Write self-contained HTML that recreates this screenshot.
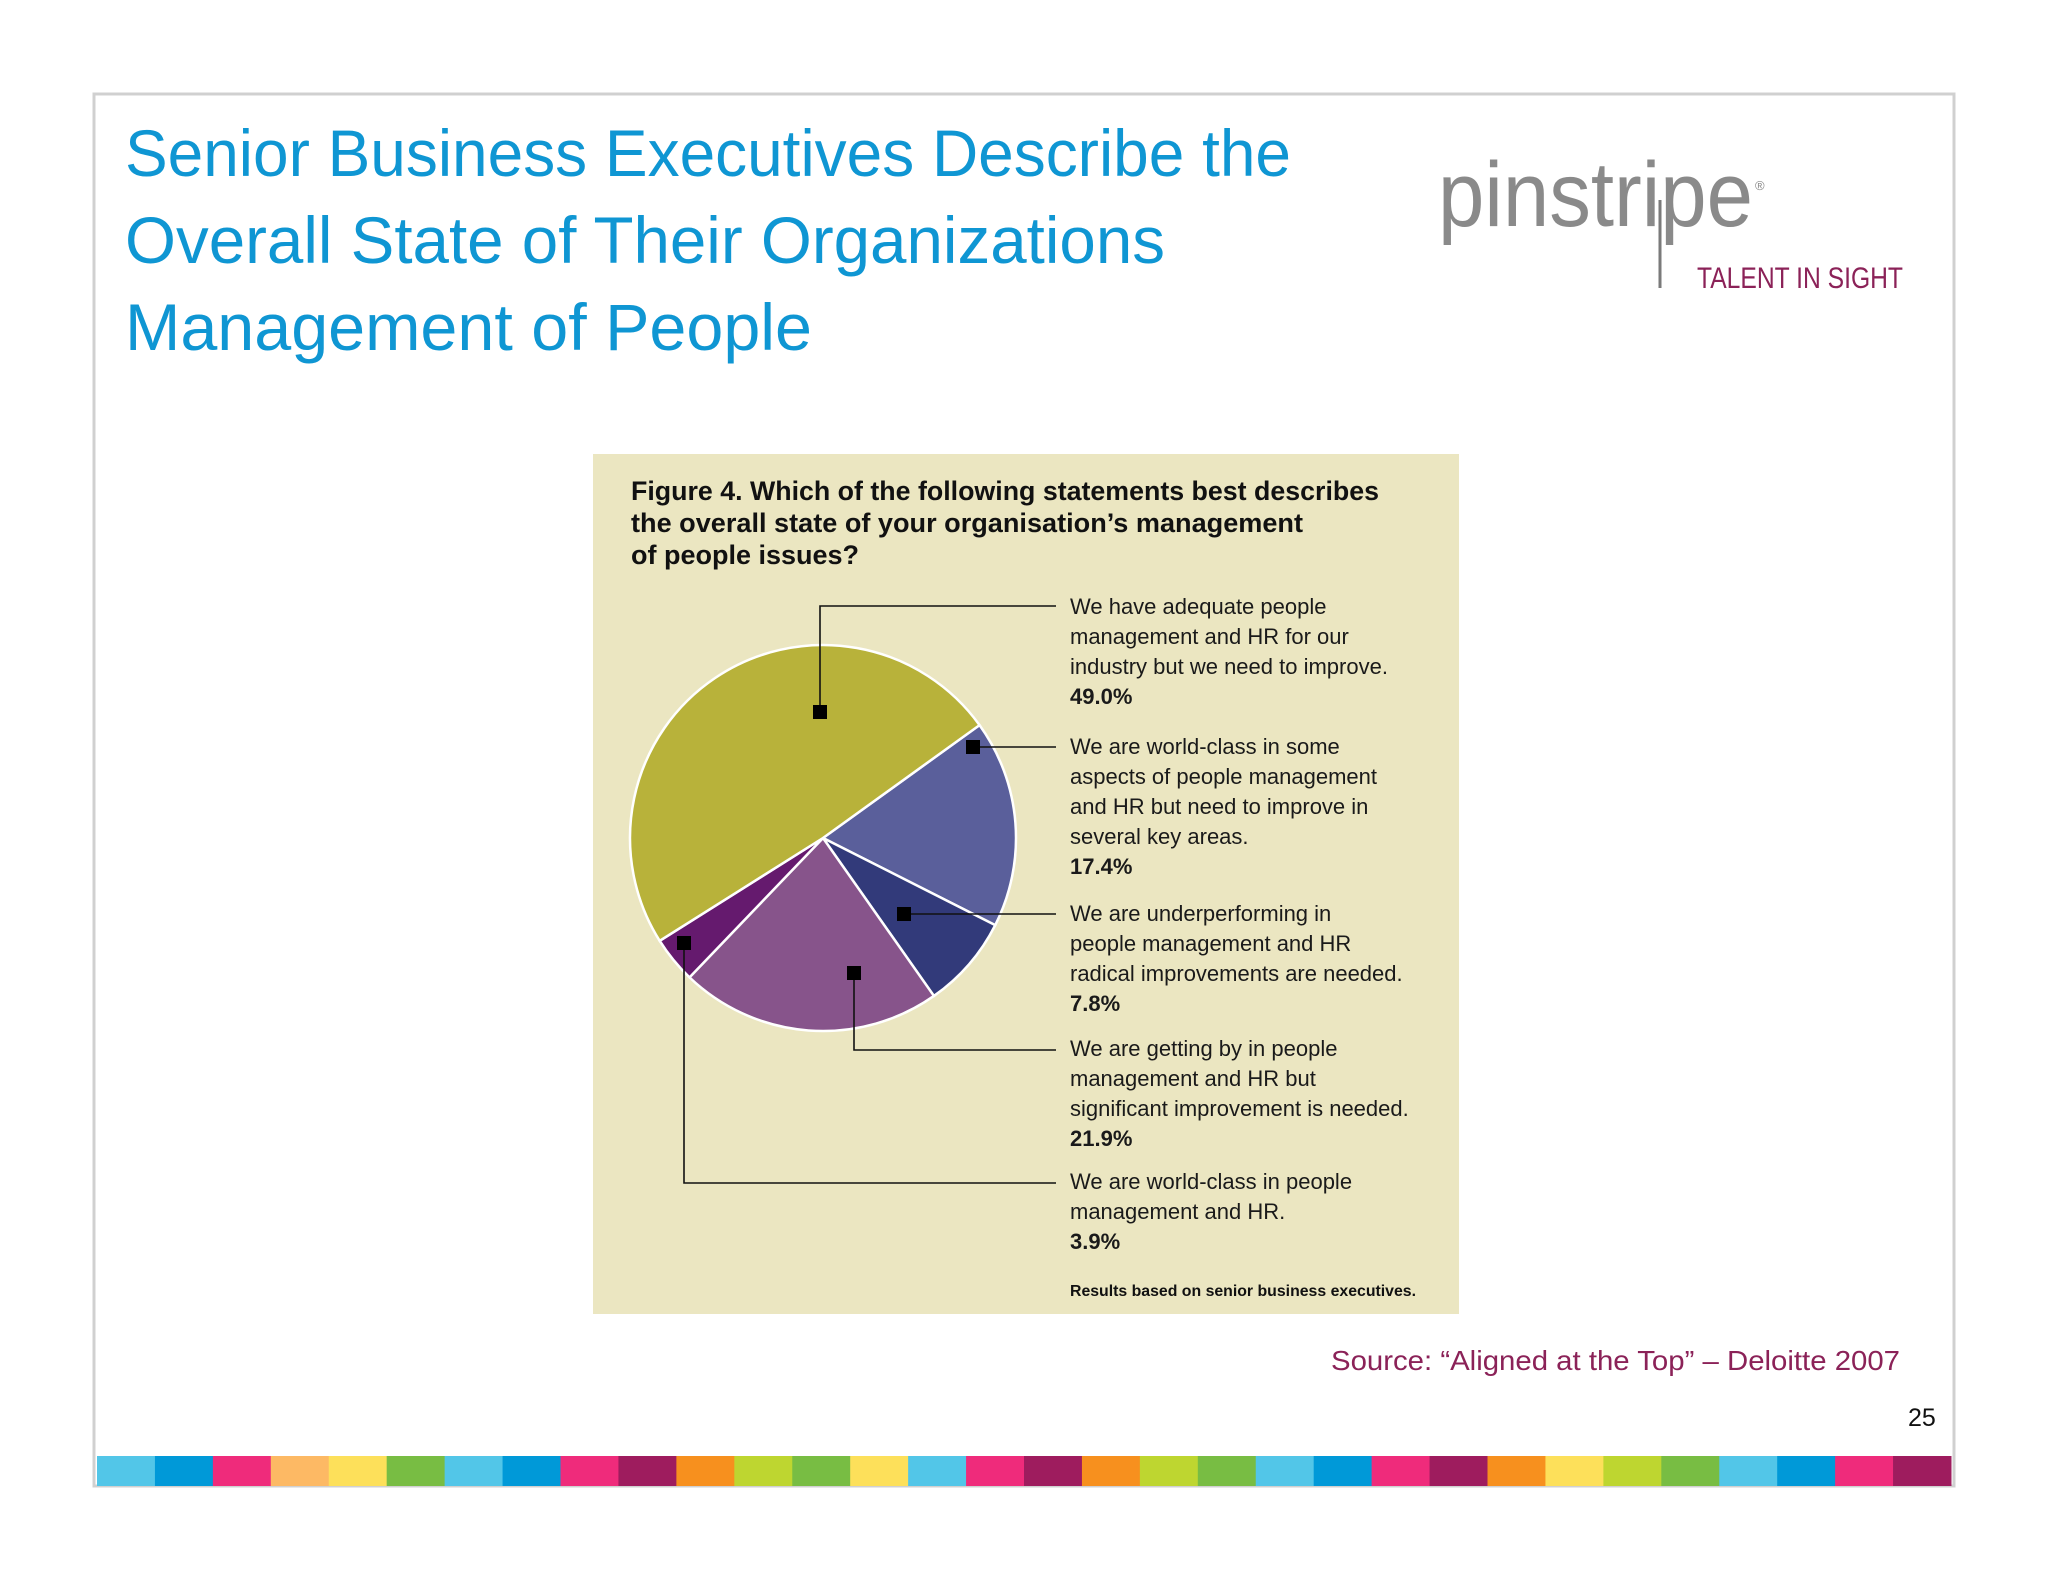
<!DOCTYPE html>
<html><head><meta charset="utf-8"><style>
html,body{margin:0;padding:0;background:#fff;}
svg{display:block;font-family:"Liberation Sans",sans-serif;}
</style></head><body>
<svg id="root" width="2048" height="1582" viewBox="0 0 2048 1582" xmlns="http://www.w3.org/2000/svg">
<rect x="94" y="94" width="1860" height="1392" fill="#fff" stroke="#d0d0d0" stroke-width="3"/>
<g fill="#0f96d3" font-size="66">
<text x="125" y="176" textLength="1166" lengthAdjust="spacingAndGlyphs">Senior Business Executives Describe the</text>
<text x="125" y="263" textLength="1040" lengthAdjust="spacingAndGlyphs">Overall State of Their Organizations</text>
<text x="125" y="350" textLength="687" lengthAdjust="spacingAndGlyphs">Management of People</text>
</g>
<g>
<text x="1438" y="226" font-size="92" fill="#8a8a8a" textLength="315" lengthAdjust="spacingAndGlyphs">pinstripe</text>
<line x1="1660" y1="200" x2="1660" y2="288" stroke="#7a7a7a" stroke-width="3"/>
<text x="1755" y="190" font-size="13" fill="#888">®</text>
<text x="1697" y="288" font-size="30" fill="#8b2258" textLength="206" lengthAdjust="spacingAndGlyphs">TALENT IN SIGHT</text>
</g>
<rect x="593" y="454" width="866" height="860" fill="#ebe6c1"/>
<g font-weight="bold" font-size="27" fill="#111">
<text x="631" y="500" textLength="748" lengthAdjust="spacingAndGlyphs">Figure 4. Which of the following statements best describes</text>
<text x="631" y="532" textLength="672" lengthAdjust="spacingAndGlyphs">the overall state of your organisation’s management</text>
<text x="631" y="564">of people issues?</text>
</g>
<g id="pie"></g>
<g id="labels" font-size="22" fill="#1a1a1a"></g>
<text x="1070" y="1296" font-size="16" font-weight="bold" fill="#111" textLength="346" lengthAdjust="spacingAndGlyphs">Results based on senior business executives.</text>
<text x="1331" y="1370" font-size="28" fill="#8b2258" textLength="569" lengthAdjust="spacingAndGlyphs">Source:  “Aligned at the Top” – Deloitte  2007</text>
<text x="1908" y="1426" font-size="25" fill="#111">25</text>
<g id="bar"></g>
</svg>
<script>
const categories=["We have adequate people|management and HR for our|industry but we need to improve.","We are world-class in some|aspects of people management|and HR but need to improve in|several key areas.","We are underperforming in|people management and HR|radical improvements are needed.","We are getting by in people|management and HR but|significant improvement is needed.","We are world-class in people|management and HR."];
const values=[49.0,17.4,7.8,21.9,3.9];
const valueLabels=["49.0%","17.4%","7.8%","21.9%","3.9%"];
const sliceColors=["#b8b23a","#5a5f9b","#323a7a","#87548b","#651a6e"];
const NS="http://www.w3.org/2000/svg";
const cx=823,cy=838,r=193;
const total=values.reduce((a,b)=>a+b,0);
const pie=document.getElementById('pie');
let start=54.2;
const order=[1,2,3,4,0];
function pt(a,rr){const t=(a-90)*Math.PI/180;return [cx+rr*Math.cos(t),cy+rr*Math.sin(t)];}
order.forEach(i=>{
  const sweep=values[i]/total*360;const e=start+sweep;
  const [x1,y1]=pt(start,r),[x2,y2]=pt(e,r);
  const p=document.createElementNS(NS,'path');
  p.setAttribute('d',`M${cx},${cy}L${x1},${y1}A${r},${r} 0 ${sweep>180?1:0} 1 ${x2},${y2}Z`);
  p.setAttribute('fill',sliceColors[i]);p.setAttribute('stroke','#fff');p.setAttribute('stroke-width','2.5');
  
  
  pie.appendChild(p);start=e;
});
const leaders=[
 [[820,712],[[820,712],[820,606],[1056,606]]],
 [[973,747],[[973,747],[1056,747]]],
 [[904,914],[[904,914],[1056,914]]],
 [[854,973],[[854,973],[854,1050],[1056,1050]]],
 [[684,943],[[684,943],[684,1183],[1056,1183]]]
];
const labelTop=[606,746,913,1048,1181];
const lab=document.getElementById('labels');
leaders.forEach((L,i)=>{
  const pl=document.createElementNS(NS,'polyline');
  pl.setAttribute('points',L[1].map(p=>p.join(',')).join(' '));
  pl.setAttribute('fill','none');pl.setAttribute('stroke','#111');pl.setAttribute('stroke-width','1.6');
  
  
  pie.appendChild(pl);
  const m=document.createElementNS(NS,'rect');
  m.setAttribute('x',L[0][0]-7);m.setAttribute('y',L[0][1]-7);m.setAttribute('width',14);m.setAttribute('height',14);m.setAttribute('fill','#000');
  
  
  pie.appendChild(m);
  const lines=categories[i].split('|');
  const g=document.createElementNS(NS,'g');
  
  
  lines.forEach((s,k)=>{const t=document.createElementNS(NS,'text');t.setAttribute('x',1070);t.setAttribute('y',labelTop[i]+8+k*30);t.textContent=s;g.appendChild(t);});
  const v=document.createElementNS(NS,'text');v.setAttribute('x',1070);v.setAttribute('y',labelTop[i]+8+lines.length*30);v.setAttribute('font-weight','bold');v.textContent=valueLabels[i];
  
  
  g.appendChild(v);lab.appendChild(g);
});
const stripe=["#52c6e8","#0099d8","#ef2b7b","#fdb964","#fde05a","#78bd43","#52c6e8","#0099d8","#ef2b7b","#9e1c5e","#f7901e","#bed630","#78bd43","#fde05a","#52c6e8","#ef2b7b","#9e1c5e","#f7901e","#bed630","#78bd43","#52c6e8","#0099d8","#ef2b7b","#9e1c5e","#f7901e","#fde05a","#bed630","#78bd43","#52c6e8","#0099d8","#ef2b7b","#9e1c5e"];
const bar=document.getElementById('bar');const bw=(1951-97)/stripe.length;
stripe.forEach((c,i)=>{const rc=document.createElementNS(NS,'rect');rc.setAttribute('x',97+i*bw);rc.setAttribute('y',1456);rc.setAttribute('width',bw+0.5);rc.setAttribute('height',30);rc.setAttribute('fill',c);


bar.appendChild(rc);});
</script>
</body></html>
